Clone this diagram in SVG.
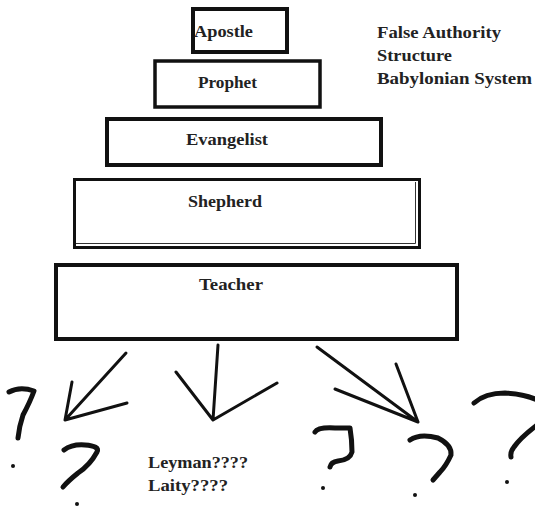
<svg xmlns="http://www.w3.org/2000/svg" width="535" height="510" viewBox="0 0 535 510">
<style>
.box{fill:#fff;stroke:#111;stroke-width:4}
.t{font-family:"Liberation Serif","Times New Roman",serif;font-weight:bold;font-size:16px;fill:#222}
.ink{fill:none;stroke:#111;stroke-width:3;stroke-linecap:round;stroke-linejoin:round}
.q{fill:none;stroke:#111;stroke-width:5;stroke-linecap:round;stroke-linejoin:round}
.dot{fill:#111}
</style>
<rect width="535" height="510" fill="#fff"/>
<g id="apostle">
<rect class="box" x="193" y="9" width="94" height="43"/>
<text class="t" x="194" y="37" textLength="59" lengthAdjust="spacingAndGlyphs">Apostle</text>
</g>
<g id="prophet">
<rect class="box" x="155" y="61" width="165" height="46" style="stroke-width:3.5"/>
<text class="t" x="198" y="88" textLength="59" lengthAdjust="spacingAndGlyphs">Prophet</text>
</g>
<g id="evangelist">
<rect class="box" x="107" y="119" width="274" height="46"/>
<text class="t" x="186" y="145" textLength="82" lengthAdjust="spacingAndGlyphs">Evangelist</text>
</g>
<g id="shepherd">
<rect class="box" x="74.5" y="179.5" width="345" height="68" style="stroke-width:3"/>
<path d="M76 243.5H415.5V182" fill="none" stroke="#333" stroke-width="1"/>
<text class="t" x="188" y="207" textLength="74" lengthAdjust="spacingAndGlyphs">Shepherd</text>
</g>
<g id="teacher">
<rect class="box" x="56" y="265" width="401" height="74"/>
<text class="t" x="199" y="290" textLength="64" lengthAdjust="spacingAndGlyphs">Teacher</text>
</g>
<g id="title">
<text class="t" x="377" y="38" textLength="124" lengthAdjust="spacingAndGlyphs">False Authority</text>
<text class="t" x="377" y="61" textLength="75" lengthAdjust="spacingAndGlyphs">Structure</text>
<text class="t" x="377" y="84" textLength="155" lengthAdjust="spacingAndGlyphs">Babylonian System</text>
</g>
<g id="laity">
<text class="t" x="148" y="468" textLength="100" lengthAdjust="spacingAndGlyphs">Leyman????</text>
<text class="t" x="148" y="491" textLength="80" lengthAdjust="spacingAndGlyphs">Laity????</text>
</g>
<g id="connectors">
<path class="ink" d="M126 353L65 420M72 382L65 420L127 403"/>
<path class="ink" d="M218 345L213 420M176 372L213 420L277 383"/>
<path class="ink" d="M317 347L418 422M335 389L418 422M396 364L418 422"/>
</g>
<g id="marks">
<path class="q" d="M9 392Q20 386 34 391Q30 402 23 415Q19 427 18 438"/>
<circle class="dot" cx="13" cy="466" r="2"/>
<path class="q" d="M64 450Q72 444 85 445Q100 446 97 452Q90 465 78 473Q68 481 63 487"/>
<circle class="dot" cx="77" cy="504" r="2"/>
<path class="q" d="M315 432Q318 427 335 428L350 428Q352 440 352 452Q350 460 338 461Q331 462 330 467"/>
<circle class="dot" cx="323" cy="488" r="2"/>
<path class="q" d="M410 440Q420 433 438 438Q452 445 451 455Q446 466 440 472L433 480"/>
<circle class="dot" cx="415" cy="495" r="2"/>
<path class="q" d="M474 403Q485 393 505 393Q525 394 537 400"/>
<path class="q" d="M537 425Q520 438 514 447Q510 452 511 457"/>
<circle class="dot" cx="507" cy="482" r="2"/>
</g>
</svg>
